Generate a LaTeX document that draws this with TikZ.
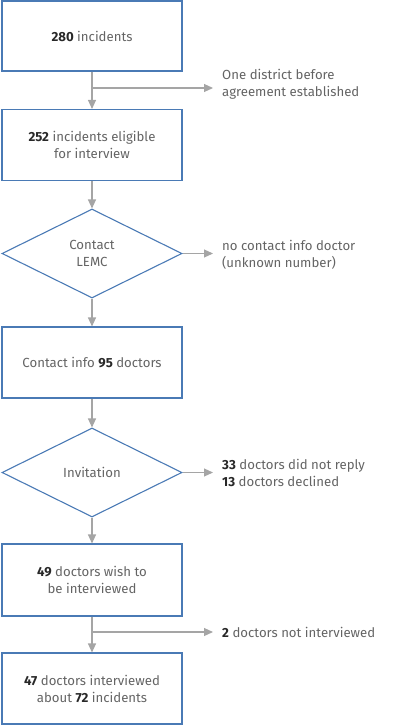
\documentclass[tikz,border=0pt]{standalone}
\usepackage{fontspec}
\setmainfont{Fira Sans}
\usetikzlibrary{arrows.meta,shapes.geometric}
\definecolor{boxblue}{RGB}{74,122,181}
\definecolor{arrgray}{RGB}{165,165,165}
\definecolor{txtgray}{RGB}{100,100,100}
\definecolor{numdark}{RGB}{40,40,40}
\newcommand{\nm}[1]{{\color{numdark}\textbf{#1}}}
\tikzset{
  boxnode/.style={draw=boxblue, line width=1.1pt, minimum width=180pt, minimum height=71pt, inner sep=0pt, align=center, text=txtgray, font=\fontsize{13.2}{17}\selectfont},
  dianode/.style={draw=boxblue, line width=1.1pt, diamond, minimum width=180pt, minimum height=89pt, inner sep=0pt, align=center, text=txtgray, font=\fontsize{13.2}{17}\selectfont},
  lblnode/.style={anchor=west, align=left, text=txtgray, inner sep=0pt, font=\fontsize{13.2}{17}\selectfont},
  arr/.style={draw=arrgray, line width=1.1pt, -{Triangle[length=9pt,width=8pt]}}
}
\begin{document}
\begin{tikzpicture}[x=1pt,y=-1pt]
\useasboundingbox (0,0) rectangle (400,725);
\node[boxnode, minimum height=70pt] (b1) at (92,36) {\nm{280} incidents};
\node[boxnode] (b2) at (92,145) {\nm{252} incidents eligible\\ for interview};
\node[dianode] (d1) at (92,253.5) {Contact\\LEMC};
\node[boxnode] (b3) at (92,362.5) {Contact info \nm{95} doctors};
\node[dianode] (d2) at (92,472.5) {Invitation};
\node[boxnode, minimum height=72pt] (b4) at (92,580) {\nm{49} doctors wish to\\be interviewed};
\node[boxnode] (b5) at (92,688.5) {\nm{47} doctors interviewed\\about \nm{72} incidents};

\node[lblnode] (l1) at (222,84) {One district before\\agreement established};
\node[lblnode] (l2) at (222,254.5) {no contact info doctor\\(unknown number)};
\node[lblnode] (l3) at (222,472.5) {\nm{33} doctors did not reply\\\nm{13} doctors declined};
\node[lblnode] (l4) at (222,632) {\nm{2} doctors not interviewed};

\coordinate (j1) at (92,88);
\coordinate (e1) at (213,88);
\coordinate (e2) at (213,253.5);
\coordinate (e3) at (213,472.5);
\coordinate (j4) at (92,632);
\coordinate (e4) at (213,632);

\draw[arr] (b1.south) -- (b2.north);
\draw[arr] (j1) -- (e1);
\draw[arr] (b2.south) -- (d1.north);
\draw[arr] (d1.east) -- (e2);
\draw[arr] (d1.south) -- (b3.north);
\draw[arr] (b3.south) -- (d2.north);
\draw[arr] (d2.east) -- (e3);
\draw[arr] (d2.south) -- (b4.north);
\draw[arr] (b4.south) -- (b5.north);
\draw[arr] (j4) -- (e4);
\end{tikzpicture}
\end{document}
